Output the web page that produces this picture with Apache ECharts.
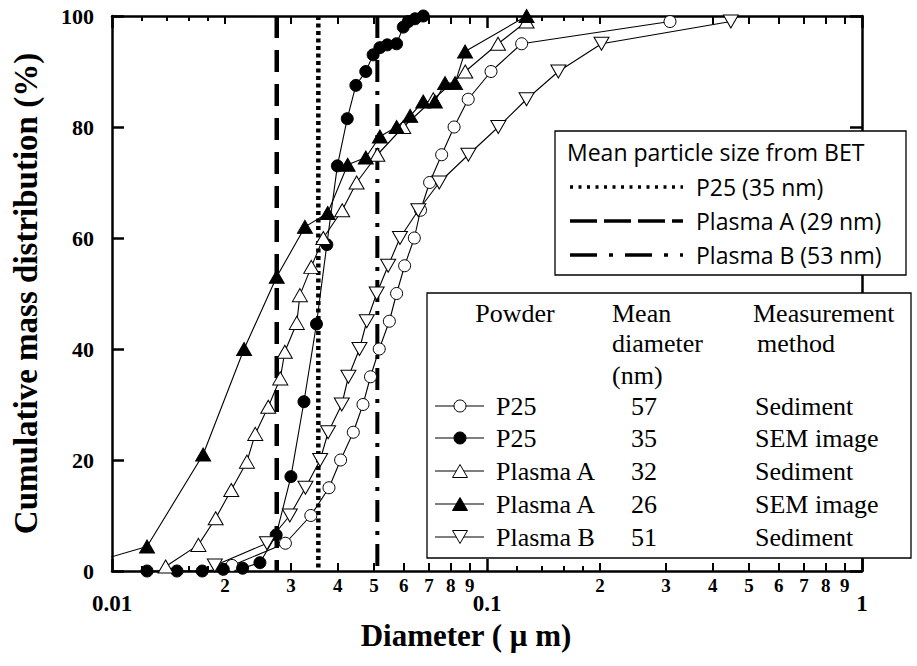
<!DOCTYPE html>
<html>
<head>
<meta charset="utf-8" />
<title>Cumulative mass distribution</title>
<script src="https://cdn.jsdelivr.net/npm/echarts@6/dist/echarts.min.js"></script>
<style>
    body { margin: 0; background: #fff; }
    #chart { width: 917px; height: 666px; }
</style>
</head>
<body>
<div id="chart"></div>
<script>
// diameter in um, cumulative mass in %
var p25SedX = [0.0209, 0.0290, 0.0339, 0.0379, 0.0407, 0.0440, 0.0467, 0.0489, 0.0516, 0.0549, 0.0574, 0.0603, 0.0640, 0.0665, 0.0703, 0.0757, 0.0817, 0.0891, 0.1025, 0.1237, 0.3076];
var p25SedY = [1, 5, 10, 15, 20, 25, 30, 35, 40, 45, 50, 55, 60, 65, 70, 75, 80, 85, 90, 95, 99];

var p25SemX = [0.0124, 0.0149, 0.0174, 0.0198, 0.0223, 0.0248, 0.0274, 0.0300, 0.0325, 0.0351, 0.0374, 0.0399, 0.0424, 0.0447, 0.0475, 0.0497, 0.0518, 0.0542, 0.0574, 0.0598, 0.0617, 0.0643, 0.0676];
var p25SemY = [0, 0, 0, 0.3, 0.5, 1.5, 6.5, 17, 30.5, 44.5, 58.8, 73, 81.5, 87.5, 90, 93, 94.3, 94.8, 95, 98, 99, 99.5, 100];

var plasmaASedX = [0.0139, 0.0170, 0.0189, 0.0208, 0.0229, 0.0241, 0.0261, 0.0281, 0.0289, 0.0311, 0.0317, 0.0340, 0.0366, 0.0411, 0.0449, 0.0510, 0.0598, 0.0719, 0.0875, 0.1070, 0.1275];
var plasmaASedY = [0.8, 4.7, 9.5, 14.6, 19.7, 24.7, 29.6, 34.7, 39.5, 44.7, 49.7, 54.8, 60, 65, 70, 75, 80, 85, 90, 95, 99];

var plasmaASemX = [0.0088, 0.0124, 0.0175, 0.0225, 0.0275, 0.0327, 0.0376, 0.0425, 0.0475, 0.0518, 0.0574, 0.0624, 0.0676, 0.0726, 0.0773, 0.0822, 0.0874, 0.1275];
var plasmaASemY = [1.5, 4.4, 21, 40, 53, 62, 64.5, 73.2, 74.5, 78.3, 80, 82, 84.6, 84.6, 87.9, 87.9, 93.6, 100];

var plasmaBSedX = [0.0188, 0.0259, 0.0298, 0.0328, 0.0359, 0.0377, 0.0410, 0.0427, 0.0457, 0.0478, 0.0508, 0.0545, 0.0586, 0.0656, 0.0746, 0.0892, 0.1072, 0.1275, 0.1550, 0.2020, 0.4470];
var plasmaBSedY = [1, 5, 10, 15, 20, 25, 30, 35, 40, 45, 50, 55, 60, 65, 70, 75, 80, 85, 90, 95, 99];

// mean particle size from BET (um): P25, Plasma A, Plasma B
var betNames = ['P25 (35 nm)', 'Plasma A (29 nm)', 'Plasma B (53 nm)'];
var betSizes = [0.0355, 0.0275, 0.0510];

// table legend
var powderNames = ['P25', 'P25', 'Plasma A', 'Plasma A', 'Plasma B'];
var meanDiameters = ['57', '35', '32', '26', '51'];
var methods = ['Sediment', 'SEM image', 'Sediment', 'SEM image', 'Sediment'];

// log axis ticks
var decades = [-2, -1];
var minorMults = [2, 3, 4, 5, 6, 7, 8, 9];
var fineMults = [1.2, 1.4, 1.6, 1.8];

var serif = '"Liberation Serif", "Times New Roman", serif';
var sans = '"Open Sans", "Noto Sans", sans-serif';

function pairs(xs, ys) {
    return xs.map(function (x, i) { return [x, ys[i]]; });
}

function logTicks(mults) {
    var out = [];
    decades.forEach(function (d) {
        mults.forEach(function (m) { out.push(d + Math.log10(m)); });
    });
    return out;
}

var minorTicks = logTicks(minorMults);
var fineTicks = logTicks(fineMults);

function tickAxis(pos, values, len, withLabels) {
    return {
        type: 'value', min: -2, max: 0, position: pos,
        axisLine: { show: false },
        splitLine: { show: false },
        axisTick: { show: true, inside: true, length: len, customValues: values, lineStyle: { color: '#000', width: 2 } },
        axisLabel: {
            show: withLabels, customValues: values, margin: 5,
            fontFamily: serif, fontWeight: 'bold', fontSize: 19, color: '#000',
            formatter: function (v) { return String(Math.round(Math.pow(10, v - Math.floor(v + 1e-9)))); }
        }
    };
}

var axisLine = { show: true, onZero: false, lineStyle: { color: '#000', width: 2.5 } };
var majorTick = { show: true, inside: true, length: 12, lineStyle: { color: '#000', width: 2.5 } };

var chart = echarts.init(document.getElementById('chart'), null, { renderer: 'svg' });

var openStyle = { color: '#fff', borderColor: '#000', borderWidth: 1 };
var fillStyle = { color: '#000', borderColor: '#000', borderWidth: 1 };
var lineStyle = { color: '#000', width: 1.1 };

function dataSeries(name, xs, ys, symbol, size, style, rotate) {
    return {
        name: name, type: 'line', xAxisIndex: 0, yAxisIndex: 0,
        data: pairs(xs, ys), symbol: symbol, symbolSize: size, symbolRotate: rotate || 0,
        showAllSymbol: true, itemStyle: style, lineStyle: lineStyle, z: 5,
        emphasis: { disabled: true }, clip: true
    };
}

var refStyles = [
    { type: [4, 3.5], width: 4.5 },
    { type: [22, 12], width: 4.5 },
    { type: [22, 9, 4, 9], width: 4 }
];

var refSeries = betSizes.map(function (s, i) {
    return {
        name: betNames[i], type: 'line', xAxisIndex: 0, yAxisIndex: 0,
        data: [[s, 100], [s, 0]], symbol: 'none', z: 2,
        lineStyle: { color: '#000', width: refStyles[i].width, type: refStyles[i].type },
        emphasis: { disabled: true }
    };
});

var series = refSeries.concat([
    dataSeries('P25 Sediment', p25SedX, p25SedY, 'circle', 12, openStyle),
    dataSeries('P25 SEM image', p25SemX, p25SemY, 'circle', 12, fillStyle),
    dataSeries('Plasma A Sediment', plasmaASedX, plasmaASedY, 'triangle', [15, 13], openStyle),
    dataSeries('Plasma A SEM image', plasmaASemX, plasmaASemY, 'triangle', [15, 13], fillStyle),
    dataSeries('Plasma B Sediment', plasmaBSedX, plasmaBSedY, 'triangle', [15, 13], openStyle, 180)
]);

// legend boxes
var graphics = [];
graphics.push({ type: 'rect', z: 100, shape: { x: 555, y: 131, width: 351, height: 144 }, style: { fill: '#fff', stroke: '#000', lineWidth: 1.3 } });
var bFont = '23px ' + sans;
graphics.push({ type: 'text', z: 101, x: 567, y: 152, style: { text: 'Mean particle size from BET', font: bFont, fill: '#000', verticalAlign: 'middle' } });
[187, 221, 255].forEach(function (y, i) {
    var dash = [[3, 5.5], [27, 7], [27, 12, 4, 12]][i];
    graphics.push({ type: 'line', z: 101, shape: { x1: 570, y1: y, x2: 683, y2: y }, style: { stroke: '#000', lineWidth: 3.5, lineDash: dash } });
    graphics.push({ type: 'text', z: 101, x: 696, y: y, style: { text: betNames[i], font: bFont, fill: '#000', verticalAlign: 'middle' } });
});

graphics.push({ type: 'rect', z: 100, shape: { x: 427, y: 293, width: 484, height: 265 }, style: { fill: '#fff', stroke: '#000', lineWidth: 1.3 } });
var tFont = '26px ' + serif;
function tText(x, y, t, align) {
    graphics.push({ type: 'text', z: 101, x: x, y: y, style: { text: t, font: tFont, fill: '#000', verticalAlign: 'middle', align: align || 'left' } });
}
tText(515, 313, 'Powder', 'center');
tText(612, 313, 'Mean');
tText(612, 343, 'diameter');
tText(612, 375, '(nm)');
tText(753, 313, 'Measurement');
tText(757, 343, 'method');
var rowY = [406, 438, 471, 504, 537];
var rowSym = ['circle', 'circle', 'up', 'up', 'down'];
var rowFill = ['#fff', '#000', '#fff', '#000', '#fff'];
rowY.forEach(function (y, i) {
    graphics.push({ type: 'line', z: 101, shape: { x1: 435, y1: y, x2: 484, y2: y }, style: { stroke: '#000', lineWidth: 1.1 } });
    var st = { fill: rowFill[i], stroke: '#000', lineWidth: 1 };
    if (rowSym[i] === 'circle') {
        graphics.push({ type: 'circle', z: 102, shape: { cx: 460, cy: y, r: 6 }, style: st });
    } else if (rowSym[i] === 'up') {
        graphics.push({ type: 'polygon', z: 102, shape: { points: [[452.5, y + 6.5], [467.5, y + 6.5], [460, y - 6.5]] }, style: st });
    } else {
        graphics.push({ type: 'polygon', z: 102, shape: { points: [[452.5, y - 6.5], [467.5, y - 6.5], [460, y + 6.5]] }, style: st });
    }
    tText(496, y, powderNames[i]);
    tText(631, y, meanDiameters[i]);
    tText(755, y, methods[i]);
});

chart.setOption({
    animation: false,
    backgroundColor: '#fff',
    grid: { left: 112, right: 55, top: 16, bottom: 95, containLabel: false },
    xAxis: [
        {
            type: 'log', logBase: 10, min: 0.01, max: 1, position: 'bottom',
            axisLine: axisLine, axisTick: majorTick, splitLine: { show: false },
            axisLabel: {
                margin: 21, fontFamily: serif, fontWeight: 'bold', fontSize: 23, color: '#000',
                formatter: function (v) { return v >= 1 ? '1' : String(+v.toPrecision(3)); }
            },
            name: 'Diameter ( μ m)', nameLocation: 'middle', nameGap: 43,
            nameTextStyle: { fontFamily: serif, fontWeight: 'bold', fontSize: 31, color: '#000', verticalAlign: 'top', padding: [0, 42, 0, 0] }
        },
        tickAxis('bottom', minorTicks, 8, true),
        tickAxis('bottom', fineTicks, 5, false),
        {
            type: 'log', logBase: 10, min: 0.01, max: 1, position: 'top',
            axisLine: axisLine, axisTick: majorTick, splitLine: { show: false }, axisLabel: { show: false }
        },
        tickAxis('top', minorTicks, 8, false),
        tickAxis('top', fineTicks, 5, false)
    ],
    yAxis: [
        {
            type: 'value', min: 0, max: 100, interval: 20, position: 'left',
            axisLine: axisLine, axisTick: majorTick, splitLine: { show: false },
            axisLabel: { margin: 18, fontFamily: serif, fontWeight: 'bold', fontSize: 22, color: '#000' },
            name: 'Cumulative mass distribution (%)', nameLocation: 'middle', nameGap: 70, nameRotate: 90,
            nameTextStyle: { fontFamily: serif, fontWeight: 'bold', fontSize: 33, color: '#000' }
        },
        {
            type: 'value', min: 0, max: 100, interval: 20, position: 'right',
            axisLine: axisLine, axisTick: majorTick, splitLine: { show: false }, axisLabel: { show: false }
        }
    ],
    series: series,
    graphic: graphics
});
</script>
</body>
</html>
